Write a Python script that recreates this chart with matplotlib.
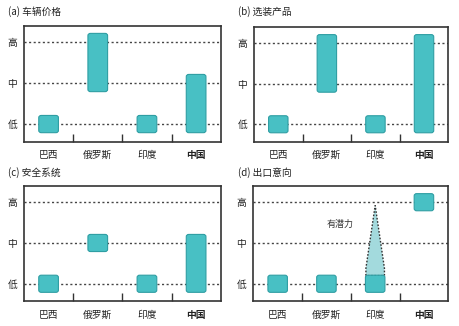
import matplotlib
matplotlib.use("Agg")
import matplotlib.pyplot as plt
from matplotlib.patches import FancyBboxPatch, Polygon

plt.rcParams['font.family'] = ['Noto Sans CJK SC', 'DejaVu Sans']

countries = ["巴西", "俄罗斯", "印度", "中国"]
level_labels = ["低", "中", "高"]
titles = ["(a) 车辆价格", "(b) 选装产品", "(c) 安全系统", "(d) 出口意向"]
# (low level, high level) per country; 0=低, 1=中, 2=高
range_low = [
    [0, 1, 0, 0],
    [0, 1, 0, 0],
    [0, 1, 0, 0],
    [0, 0, 0, 2],
]
range_high = [
    [0, 2, 0, 1],
    [0, 2, 0, 2],
    [0, 1, 0, 1],
    [0, 0, 0, 2],
]
potential_country = 2      # 印度 in panel (d)
potential_level = 2        # up to 高
potential_label = "有潜力"

W, H = 460, 326
fig = plt.figure(figsize=(W / 100, H / 100), dpi=100)

boxes_px = [
    (24, 26, 220.7, 141.7),
    (254, 27.3, 448.3, 141.7),
    (24, 186.3, 220.7, 301.3),
    (253.3, 186.3, 448.3, 301.3),
]
title_pos = [(8, 12), (238, 12), (8, 173), (238, 173)]

teal = "#48c0c4"
teal_edge = "#2f9ea3"
light = "#a3dadd"
pad = 0.21

for i in range(4):
    l, t, r, b = boxes_px[i]
    ax = fig.add_axes([l / W, 1 - b / H, (r - l) / W, (b - t) / H])
    ax.set_xlim(-0.5, 3.5)
    ax.set_ylim(-0.43, 2.39)
    for lv in range(3):
        ax.axhline(lv, color="#444444", lw=1.0, ls=(0, (1.5, 1.8)), zorder=1)
    if i == 3:
        x0 = potential_country
        poly = Polygon([(x0 - 0.19, 0.2), (x0 - 0.19, 0.38), (x0, potential_level - 0.08),
                        (x0 + 0.19, 0.38), (x0 + 0.19, 0.2)], closed=True,
                       facecolor=light, edgecolor="#333333", lw=1.0,
                       ls=(0, (1.2, 1.2)), zorder=2)
        ax.add_patch(poly)
        ax.text(1.28, 1.46, potential_label, fontsize=6.5, color="#333333",
                ha="center", va="center")
    for j in range(4):
        lo = range_low[i][j] - pad
        hi = range_high[i][j] + pad
        p = FancyBboxPatch((j - 0.2, lo), 0.4, hi - lo,
                           boxstyle="round,pad=0,rounding_size=0.05",
                           mutation_aspect=1.1,
                           facecolor=teal, edgecolor=teal_edge, lw=0.8, zorder=3)
        ax.add_patch(p)
    ax.set_xticks(range(4))
    ax.set_xticklabels(countries)
    for k, tl in enumerate(ax.get_xticklabels()):
        if k == 3:
            tl.set_fontweight("bold")
    ax.set_xticks([0.5, 1.5, 2.5], minor=True)
    ax.tick_params(axis="x", which="major", length=0, labelsize=7, pad=6, colors="#222222")
    ax.tick_params(axis="x", which="minor", direction="in", length=6, width=1.0, color="#333333")
    ax.set_yticks(range(3))
    ax.set_yticklabels(level_labels)
    ax.tick_params(axis="y", length=0, labelsize=7, pad=5, colors="#222222")
    for s in ax.spines.values():
        s.set_color("#333333")
        s.set_linewidth(1.2)
    tx, ty = title_pos[i]
    fig.text(tx / W, 1 - ty / H, titles[i], fontsize=7, color="#222222",
             ha="left", va="center")

fig.savefig("out.png", dpi=100)
